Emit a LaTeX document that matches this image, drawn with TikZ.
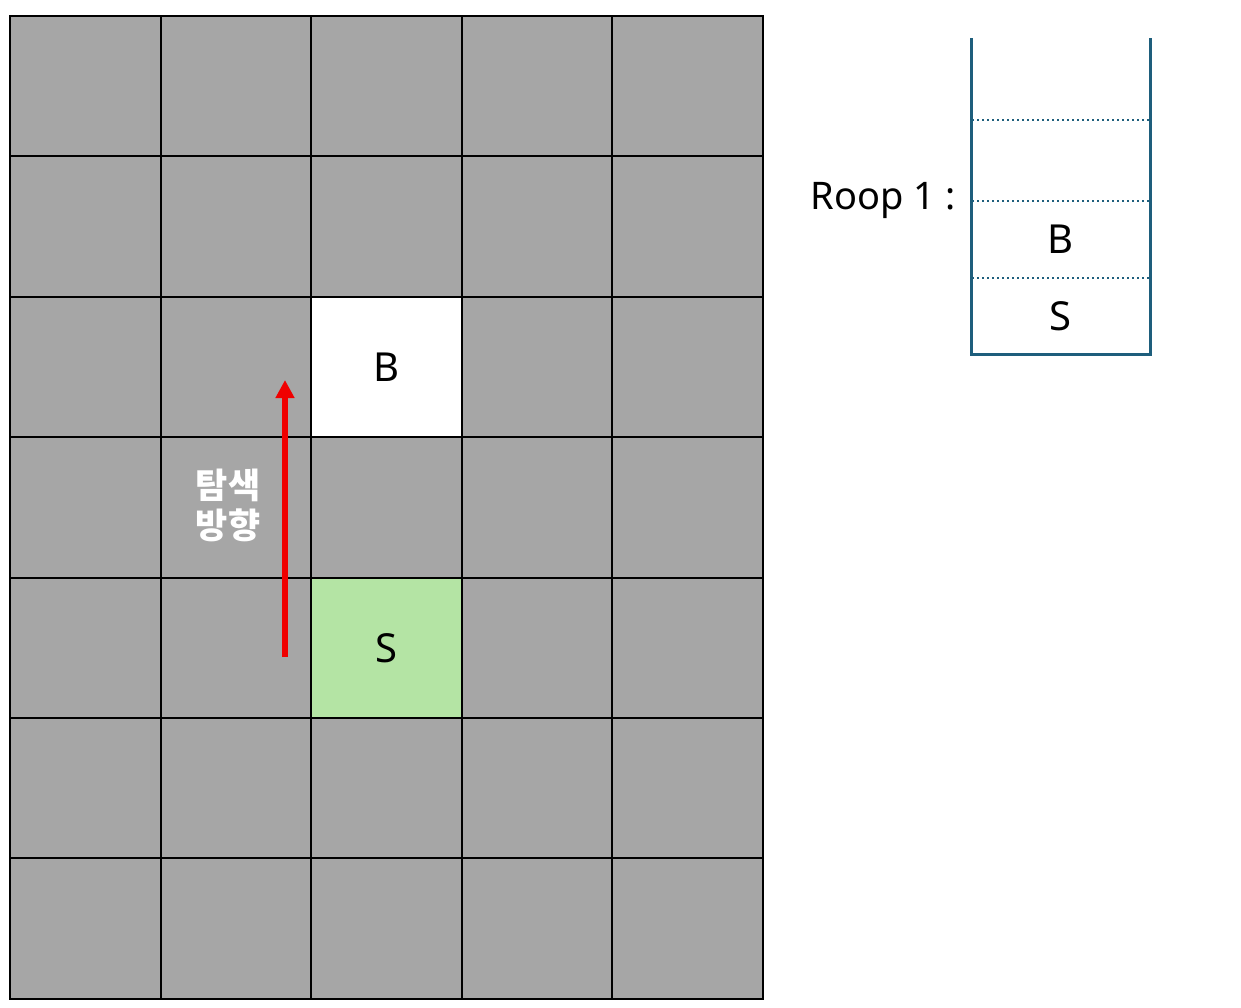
\documentclass[tikz,border=0pt]{standalone}
\usepackage{fontspec}
\setmainfont{Noto Sans}
\newfontfamily\krfont{Noto Sans CJK KR}
\usepackage{tikz}
\usetikzlibrary{arrows.meta}
\usepackage{xcolor}
\definecolor{cellgray}{RGB}{166, 166, 166}
\definecolor{startgreen}{RGB}{180, 228, 164}
\definecolor{stackteal}{RGB}{30, 94, 124}
\definecolor{dirred}{RGB}{240, 0, 0}

\begin{document}
\begin{tikzpicture}[x=0.5pt, y=-0.5pt, >=Latex,
    cell/.style={draw=black, line width=1pt, fill=cellgray, inner sep=0pt,
      minimum width=75.3pt, minimum height=70.2pt},
    lbl/.style={font=\fontsize{20}{24}\selectfont, inner sep=0pt}]
    \useasboundingbox (0,0) rectangle (1241,1007);
    % grid
    \foreach \c in {0,...,4}
      \foreach \r in {0,...,6}
        \node[cell] (c\c\r) at ({85.3+150.6*\c}, {86.2+140.4*\r}) {};
    \node[cell, fill=white] (cB) at (c22) {};
    \node[cell, fill=startgreen] (cS) at (c24) {};
    \node[lbl] at (cB) {B};
    \node[lbl] at (cS) {S};
    % direction
    \coordinate (dirfrom) at (285, 657);
    \coordinate (dirto) at (285, 380);
    \draw[dirred, line width=3pt, -{Triangle[length=9pt, width=9pt]}] (dirfrom) -- (dirto);
    \node[font=\krfont\bfseries\fontsize{17.5}{20}\selectfont, text=white, align=center,
      inner sep=0pt] (dirlbl) at (228, 505) {탐색\\방향};
    % stack
    \coordinate (stl) at (971, 38);
    \coordinate (sbl) at (971, 354);
    \coordinate (sbr) at (1150, 354);
    \coordinate (str) at (1150, 38);
    \foreach \y in {120, 201, 278}
      \draw[stackteal, line width=1.2pt, dash pattern=on 1.2pt off 1.3pt] (972, \y) -- (1149, \y);
    \draw[stackteal, line width=1.5pt] (stl) -- (sbl) -- (sbr) -- (str);
    \node[lbl] (sB) at (1060, 239) {B};
    \node[lbl] (sS) at (1060, 316) {S};
    \node[lbl, anchor=east, font=\fontsize{19}{24}\selectfont] (roop) at (956, 200) {Roop 1 :};
  \end{tikzpicture}
\end{document}
